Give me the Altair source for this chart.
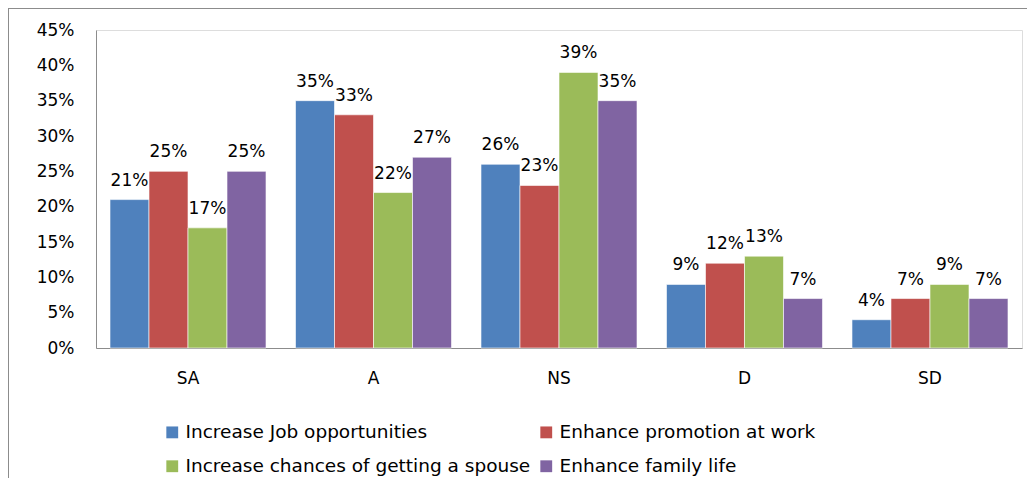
import altair as alt
import pandas as pd

categories = ["SA", "A", "NS", "D", "SD"]
series = [
    "Increase Job opportunities",
    "Enhance promotion at  work",
    "Increase chances of getting a spouse",
    "Enhance family life",
]
job = [0.21, 0.35, 0.26, 0.09, 0.04]
promo = [0.25, 0.33, 0.23, 0.12, 0.07]
spouse = [0.17, 0.22, 0.39, 0.13, 0.09]
family = [0.25, 0.27, 0.35, 0.07, 0.07]
colors = ["#4F81BD", "#C0504D", "#9BBB59", "#8064A2"]

rows = []
for s, vals in zip(series, [job, promo, spouse, family]):
    for c, v in zip(categories, vals):
        rows.append({"cat": c, "series": s, "value": v})
df = pd.DataFrame(rows)

# legend fills column-wise, so order domain to give row-wise reading like the reference
legend_order = [series[0], series[2], series[1], series[3]]
legend_colors = [colors[0], colors[2], colors[1], colors[3]]

FONT = "DejaVu Sans"
FS = 17

base = alt.Chart(df).encode(
    x=alt.X("cat:N", sort=categories, title=None,
            scale=alt.Scale(paddingInner=0.159, paddingOuter=0.0755),
            axis=alt.Axis(labelAngle=0, ticks=False, domainColor="#8c8c8c",
                          labelFontSize=FS, labelColor="#000", labelPadding=22,
                          labelFont=FONT)),
    xOffset=alt.XOffset("series:N", sort=series, scale=alt.Scale(paddingInner=0, paddingOuter=0)),
    y=alt.Y("value:Q", title=None,
            scale=alt.Scale(domain=[0, 0.45], nice=False),
            axis=alt.Axis(format=".0%", values=[i * 0.05 for i in range(10)],
                          ticks=False, grid=False, domainColor="#8c8c8c",
                          labelFontSize=FS, labelColor="#000", labelPadding=22,
                          labelFont=FONT)),
)

bars = base.mark_bar(stroke="white", strokeWidth=0.6).encode(
    color=alt.Color("series:N",
                    scale=alt.Scale(domain=legend_order, range=legend_colors),
                    legend=alt.Legend(title=None, orient="none", legendX=67, legendY=393,
                                      columns=2, columnPadding=6, rowPadding=15,
                                      symbolType="square", symbolSize=140,
                                      symbolStrokeWidth=0,
                                      labelFontSize=18.5, labelFont=FONT,
                                      labelColor="#000", labelLimit=400))
)

labels = base.mark_text(dy=-19, fontSize=FS, font=FONT, color="#000").encode(
    text=alt.Text("value:Q", format=".0%")
)

border_top = alt.Chart(pd.DataFrame({"a": [0]})).mark_rule(color="#8c8c8c", strokeWidth=2).encode(
    x=alt.value(-88), x2=alt.value(1040), y=alt.value(-22)
)
border_left = alt.Chart(pd.DataFrame({"a": [0]})).mark_rule(color="#8c8c8c", strokeWidth=2).encode(
    x=alt.value(-88), y=alt.value(-22), y2=alt.value(480)
)

chart = alt.layer(bars, labels, border_top, border_left).properties(
    width=926, height=318,
    padding={"left": 88, "top": 22, "right": 5, "bottom": 130},
    autosize=alt.AutoSizeParams(type="none"),
).configure_view(stroke=None).configure(background="white")

chart.save("out.html", embed_options={"renderer": "svg", "actions": False})
